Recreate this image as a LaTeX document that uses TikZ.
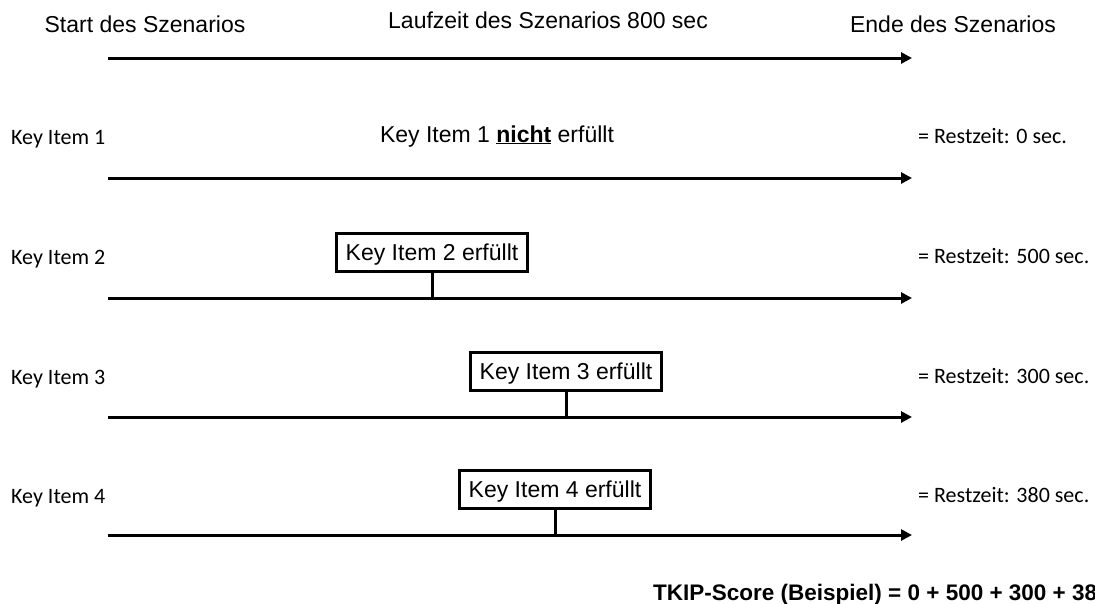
\documentclass[tikz,border=0pt]{standalone}
\usepackage{fontspec}
\setmainfont{Liberation Sans}
\newfontfamily\calfont{Carlito}
\usetikzlibrary{arrows.meta}
\begin{document}
\begin{tikzpicture}[x=1pt,y=-1pt,
  timeline/.style={line width=3pt,-{Triangle[length=11pt,width=11pt]}},
  stem/.style={line width=3pt},
  headtext/.style={font=\fontsize{23}{27}\selectfont,inner sep=0pt,anchor=base},
  itemlabel/.style={font=\calfont\fontsize{22}{26}\selectfont,inner sep=0pt,anchor=base west},
  restlabel/.style={font=\calfont\fontsize{22}{26}\selectfont,inner sep=0pt,anchor=base west},
  donebox/.style={draw,line width=3pt,fill=white,font=\fontsize{23}{27}\selectfont,
    text height=16.5pt,text depth=0pt,inner xsep=9.5pt,minimum height=38pt,anchor=south},
  scoretext/.style={font=\bfseries\fontsize{22.5}{27}\selectfont,inner sep=0pt,anchor=base west}]
\useasboundingbox (0,0) rectangle (1095,603);
\clip (0,0) rectangle (1095,603);

% header
\node[headtext] (start) at (145,32) {Start des Szenarios};
\node[headtext] (lauf) at (548,28) {Laufzeit des Szenarios 800 sec};
\node[headtext] (ende) at (953,32) {Ende des Szenarios};

% time axes
\foreach \i/\y in {0/58,1/178,2/298,3/417,4/535}{
  \coordinate (s\i) at (108,\y);
  \coordinate (e\i) at (912,\y);
}
\foreach \i in {0,...,4}{\draw[timeline] (s\i) -- (e\i);}

% item labels
\node[itemlabel] (k1) at (11,144) {Key Item 1};
\node[itemlabel] (k2) at (11,264) {Key Item 2};
\node[itemlabel] (k3) at (11,384) {Key Item 3};
\node[itemlabel] (k4) at (11,503) {Key Item 4};

% remaining time
\node[restlabel] (r1) at (918,143) {= Restzeit: 0 sec.};
\node[restlabel] (r2) at (918,263) {= Restzeit: 500 sec.};
\node[restlabel] (r3) at (918,383) {= Restzeit: 300 sec.};
\node[restlabel] (r4) at (918,502) {= Restzeit: 380 sec.};

% key item 1 not reached
\node[headtext] (n1) at (497,142) {Key Item 1 \underline{\textbf{nicht}} erfüllt};

% reached key items: tick on the axis, box sitting on a vertical stem
\coordinate (t2) at (432,298);
\coordinate (t3) at (566,417);
\coordinate (t4) at (555,535);
\node[donebox] (b2) at (432,273) {Key Item 2 erfüllt};
\node[donebox] (b3) at (566,392) {Key Item 3 erfüllt};
\node[donebox] (b4) at (555,510) {Key Item 4 erfüllt};
\draw[stem] (b2.south) -- (t2);
\draw[stem] (b3.south) -- (t3);
\draw[stem] (b4.south) -- (t4);

% score
\node[scoretext] (score) at (653,600) {TKIP-Score (Beispiel) = 0 + 500 + 300 + 380};
\end{tikzpicture}
\end{document}
